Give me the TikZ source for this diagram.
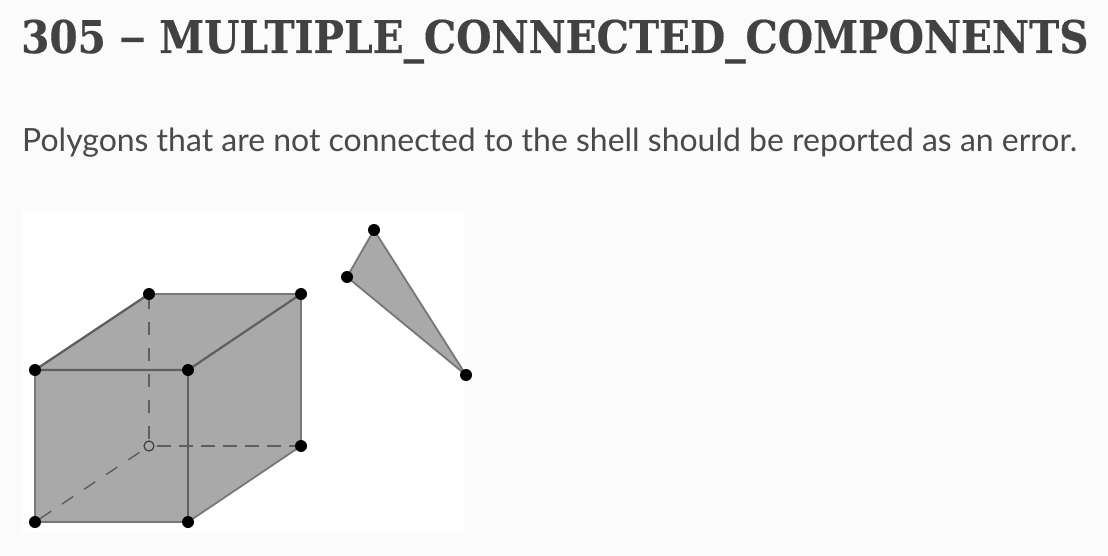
\documentclass[tikz,border=0pt]{standalone}
\usepackage{fontspec}
\setmainfont{Lato}
\newfontfamily\titlefont{DejaVu Serif Condensed}[BoldFont={* Bold},BoldFeatures={FakeBold=0.4}]
\newfontfamily\dashfont{Liberation Sans Bold}
\definecolor{pagebg}{HTML}{FBFBFB}
\definecolor{titleink}{HTML}{424242}
\definecolor{bodyink}{HTML}{4A4A4A}
\definecolor{facegray}{HTML}{A9A9A9}
\definecolor{edgegray}{HTML}{5F5F5F}
\tikzset{
  x=1pt,y=-1pt,
  vertexdot/.style={circle,fill=black,draw=none,inner sep=0pt,minimum size=12pt},
  hiddendot/.style={circle,draw=black!75,fill=facegray,line width=1.2pt,inner sep=0pt,minimum size=10pt},
  faceshape/.style={fill=facegray,draw=edgegray!85,line width=1.8pt,line join=round},
  edgeline/.style={draw=edgegray,line width=2.2pt},
  hiddenline/.style={draw=edgegray,line width=1.5pt},
  titletext/.style={anchor=base west,inner sep=0pt,text=titleink,font=\titlefont\bfseries\fontsize{45.1}{52}\selectfont},
  bodytext/.style={anchor=base west,inner sep=0pt,text=bodyink,font=\fontsize{31.97}{38}\selectfont}
}
\begin{document}
\begin{tikzpicture}
\useasboundingbox (0,0) rectangle (1108,556);
\fill[pagebg] (0,0) rectangle (1108,556);
\node[titletext] (title) at (21,53) {305 {\dashfont –} MULTIPLE\_CONNECTED\_COMPONENTS};
\node[bodytext] (body) at (22,152) {Polygons that are not connected to the shell should be reported as an error.};
\fill[white] (22,211) rectangle (464,532);
\coordinate (a) at (35,370);
\coordinate (b) at (188,370);
\coordinate (c) at (149,294);
\coordinate (d) at (301,294);
\coordinate (e) at (35,522);
\coordinate (f) at (188,522);
\coordinate (g) at (149,446);
\coordinate (h) at (301,446);
\coordinate (p) at (374,230);
\coordinate (q) at (347,277);
\coordinate (r) at (466,375);
\path[faceshape] (a) -- (c) -- (d) -- (h) -- (f) -- (e) -- cycle;
\path[faceshape] (p) -- (q) -- (r) -- cycle;
\draw[edgeline] (a) -- (b) -- (d);
\draw[edgeline] (b) -- (f);
\draw[edgeline] (a) -- (c);
\draw[hiddenline,dash pattern=on 13pt off 13pt,dash phase=-2pt] (c) -- (g);
\draw[hiddenline,dash pattern=on 14pt off 8pt,dash phase=14pt] (g) -- (h);
\draw[hiddenline,dash pattern=on 13.5pt off 13pt,dash phase=20.5pt] (e) -- (g);
\node[hiddendot] (ng) at (g) {};
\foreach \v in {a,b,c,d,e,f,h,p,q,r}
  \node[vertexdot] (n\v) at (\v) {};
\end{tikzpicture}
\end{document}
